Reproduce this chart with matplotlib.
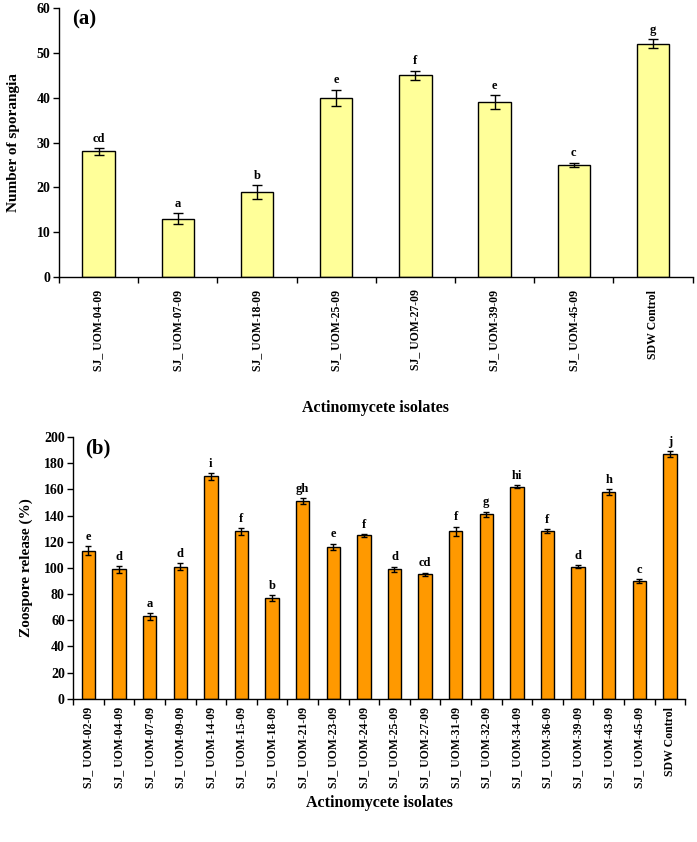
import matplotlib
matplotlib.use("Agg")
import matplotlib.pyplot as plt
import numpy as np

plt.rcParams['font.family'] = ['Liberation Serif', 'DejaVu Serif']
plt.rcParams['font.weight'] = 'bold'

# Panel (a)
cats_a = ["SJ_ UOM-04-09", "SJ_ UOM-07-09", "SJ_ UOM-18-09", "SJ_ UOM-25-09",
          "SJ_ UOM-27-09", "SJ_ UOM-39-09", "SJ_ UOM-45-09", "SDW Control"]
vals_a = [28, 13, 19, 40, 45, 39, 25, 52]
err_a = [0.7, 1.2, 1.5, 1.8, 1.0, 1.5, 0.5, 1.0]
sig_a = ["cd", "a", "b", "e", "f", "e", "c", "g"]

# Panel (b)
cats_b = ["SJ_ UOM-02-09", "SJ_ UOM-04-09", "SJ_ UOM-07-09", "SJ_ UOM-09-09",
          "SJ_ UOM-14-09", "SJ_ UOM-15-09", "SJ_ UOM-18-09", "SJ_ UOM-21-09",
          "SJ_ UOM-23-09", "SJ_ UOM-24-09", "SJ_ UOM-25-09", "SJ_ UOM-27-09",
          "SJ_ UOM-31-09", "SJ_ UOM-32-09", "SJ_ UOM-34-09", "SJ_ UOM-36-09",
          "SJ_ UOM-39-09", "SJ_ UOM-43-09", "SJ_ UOM-45-09", "SDW Control"]
vals_b = [113, 99, 63, 101, 170, 128, 77, 151, 116, 125,
          99, 95, 128, 141, 162, 128, 101, 158, 90, 187]
err_b = [3.5, 2.5, 2.5, 2.5, 2.5, 2.5, 2.0, 2.5, 2.5, 1.0,
         2.0, 1.5, 3.5, 2.0, 1.0, 1.5, 1.0, 2.0, 1.5, 2.0]
sig_b = ["e", "d", "a", "d", "i", "f", "b", "gh", "e", "f",
         "d", "cd", "f", "g", "hi", "f", "d", "h", "c", "j"]

fig = plt.figure(figsize=(6.97, 8.42), dpi=100)


def panel(ax, cats, vals, errs, sigs, color, width, ymax, ystep, ylabel, tag,
          cap, lab_off, ypad, xpad, tpad):
    x = np.arange(len(cats))
    ax.bar(x, vals, width=width, color=color, edgecolor='black', linewidth=1.0, zorder=2)
    ax.errorbar(x, vals, yerr=errs, fmt='none', ecolor='black', elinewidth=1.0,
                capsize=cap, capthick=1.0, zorder=3)
    for xi, v, e, s in zip(x, vals, errs, sigs):
        ax.text(xi, v + e + lab_off, s, ha='center', va='bottom', fontsize=9, fontweight='bold')
    ax.set_xlim(-0.5, len(cats) - 0.5)
    ax.set_ylim(0, ymax)
    ax.set_yticks(np.arange(0, ymax + 1, ystep))
    ax.set_xticks(np.arange(-0.5, len(cats), 1.0))
    ax.set_xticklabels([])
    ax.set_xticks(x, minor=True)
    ax.set_xticklabels(cats, minor=True, rotation=90, fontsize=8.5, fontweight='bold')
    ax.tick_params(axis='x', which='minor', length=0, pad=tpad)
    ax.tick_params(axis='x', which='major', length=4, width=1.0, direction='out')
    ax.tick_params(axis='y', length=4, width=1.0, direction='out', labelsize=10, pad=2)
    for lbl in ax.get_yticklabels():
        lbl.set_fontweight('bold')
    ax.spines['top'].set_visible(False)
    ax.spines['right'].set_visible(False)
    ax.spines['left'].set_linewidth(1.0)
    ax.spines['bottom'].set_linewidth(1.0)
    ax.set_ylabel(ylabel, fontsize=11, fontweight='bold', labelpad=ypad)
    ax.set_xlabel("Actinomycete isolates", fontsize=11.5, fontweight='bold', labelpad=xpad)
    ax.text(0.02, 0.995, tag, transform=ax.transAxes, fontsize=15, fontweight='bold',
            ha='left', va='top')


ax1 = fig.add_axes([0.0846, 0.671, 0.909, 0.3195])
panel(ax1, cats_a, vals_a, err_a, sig_a, '#FFFF99', 0.41, 60, 10,
      "Number of sporangia", "(a)", 3.5, 0.8, 12, 21, 9)

ax2 = fig.add_axes([0.105, 0.170, 0.878, 0.311])
panel(ax2, cats_b, vals_b, err_b, sig_b, '#FF9900', 0.44, 200, 20,
      "Zoospore release (%)", "(b)", 2.5, 2.5, 8, 5, 6)

fig.savefig("out.png", dpi=100)
